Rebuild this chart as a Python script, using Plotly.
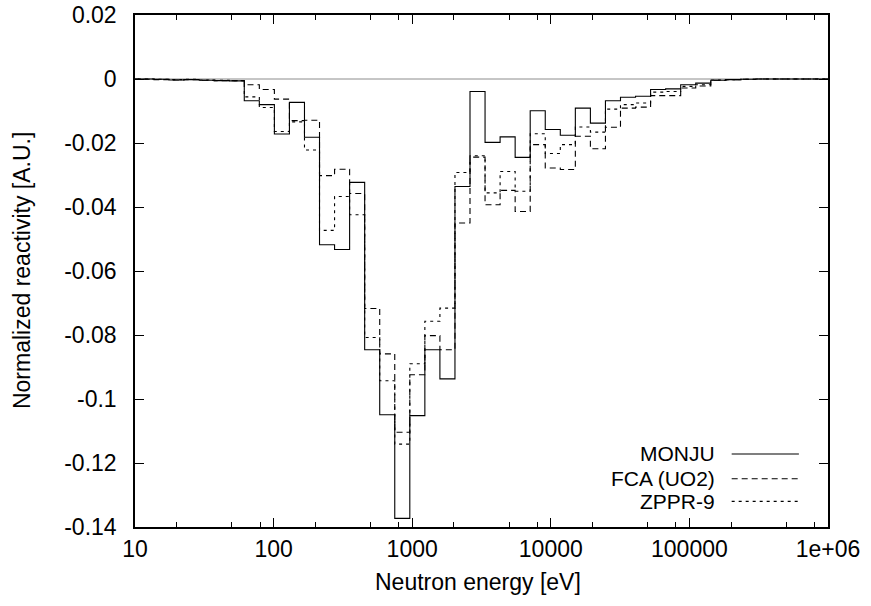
import plotly.graph_objects as go

# Energy group boundaries [eV] (ascending)
energy_edges = [8.3153, 10.677, 13.710, 17.603, 22.603, 29.023, 37.267, 47.851, 61.442, 78.893,
                101.30, 130.07, 167.02, 214.45, 275.36, 353.57, 454.00, 582.95, 748.52, 961.12,
                1234.1, 1584.6, 2034.7, 2612.5, 3354.6, 4307.4, 5530.8, 7101.7, 9118.8, 11709.0,
                15034.0, 19305.0, 24788.0, 31828.0, 40868.0, 52475.0, 67379.0, 86517.0, 111090.0, 142640.0,
                183160.0, 235180.0, 301970.0, 387740.0, 497870.0, 639280.0, 820850.0, 1054000.0]

monju = [0.0, 0.0, -0.0001, -0.0003, -0.0002, -0.0004, -0.0005, -0.0006,
         -0.0068, -0.0080, -0.0172, -0.0073, -0.0182, -0.0518, -0.0533, -0.0323,
         -0.0846, -0.1049, -0.1373, -0.1052, -0.0846, -0.0937, -0.0336, -0.0039,
         -0.0198, -0.0181, -0.0245, -0.0099, -0.0158, -0.0176, -0.0091, -0.0138,
         -0.0068, -0.0057, -0.0054, -0.0033, -0.0031, -0.0018, -0.0013, -0.0004,
         -0.0002, -0.0001, 0.0, 0.0, 0.0, 0.0, 0.0]

fca_uo2 = [0.0, -0.0001, -0.0002, -0.0003, -0.0002, -0.0004, -0.0005, -0.0005,
           -0.0018, -0.0033, -0.0063, -0.0130, -0.0129, -0.0302, -0.0282, -0.0358,
           -0.0717, -0.0859, -0.1104, -0.0924, -0.0802, -0.0846, -0.0450, -0.0244,
           -0.0393, -0.0348, -0.0414, -0.0205, -0.0278, -0.0283, -0.0179, -0.0218,
           -0.0151, -0.0091, -0.0088, -0.0052, -0.0052, -0.0028, -0.0022, -0.0004,
           -0.0002, -0.0001, 0.0, 0.0, 0.0, 0.0, 0.0]

zppr9 = [0.0, 0.0, -0.0001, -0.0002, -0.0001, -0.0003, -0.0004, -0.0005,
         -0.0056, -0.0089, -0.0164, -0.0134, -0.0222, -0.0473, -0.0367, -0.0424,
         -0.0808, -0.0943, -0.1141, -0.0890, -0.0757, -0.0716, -0.0292, -0.0240,
         -0.0356, -0.0289, -0.0351, -0.0171, -0.0233, -0.0205, -0.0150, -0.0166,
         -0.0094, -0.0080, -0.0075, -0.0041, -0.0039, -0.0023, -0.0018, -0.0003,
         -0.0002, -0.0001, 0.0, 0.0, 0.0, 0.0, 0.0]

series_names = ["MONJU", "FCA (UO2)", "ZPPR-9"]
series_dash = ["solid", "6px,4px", "3px,4px"]

x_major = [10, 100, 1000, 10000, 100000, 1000000]
x_major_text = ["10", "100", "1000", "10000", "100000", "1e+06"]
x_minor = [m * d for d in [10, 100, 1000, 10000, 100000] for m in (2, 5, 8)]
y_ticks = [0.02, 0.0, -0.02, -0.04, -0.06, -0.08, -0.1, -0.12, -0.14]
y_text = ["0.02", "0", "-0.02", "-0.04", "-0.06", "-0.08", "-0.1", "-0.12", "-0.14"]

FONT = "Liberation Sans, Arial, Helvetica, sans-serif"
FS = 23
FS_LEG = 21

fig = go.Figure()

# zero axis line
fig.add_trace(go.Scatter(x=[x_major[0], x_major[-1]], y=[0, 0], mode="lines",
                         line=dict(color="#8c8c8c", width=1), showlegend=False, hoverinfo="skip"))

for name, vals, dash in zip(series_names, [monju, fca_uo2, zppr9], series_dash):
    xs = list(energy_edges)
    ys = list(vals) + [vals[-1]]
    fig.add_trace(go.Scatter(x=xs, y=ys, mode="lines", line_shape="hv", name=name,
                             line=dict(color="black", width=1.1, dash=dash), showlegend=False))

# manual legend (text left, sample right)
leg_y = [0.1426, 0.0943, 0.050]
for name, dash, yy in zip(series_names, series_dash, leg_y):
    fig.add_annotation(x=0.838, y=yy, xref="paper", yref="paper", text=name, showarrow=False,
                       xanchor="right", yanchor="middle", borderpad=0,
                       font=dict(family=FONT, size=FS_LEG, color="black"))
    fig.add_shape(type="line", xref="paper", yref="paper", x0=0.861, x1=0.958, y0=yy, y1=yy,
                  line=dict(color="black", width=1.1, dash=dash))

fig.add_annotation(x=0.495, y=-0.108, xref="paper", yref="paper", text="Neutron energy [eV]",
                   showarrow=False, xanchor="center", yanchor="middle",
                   font=dict(family=FONT, size=FS, color="black"))
fig.add_annotation(x=-0.163, y=0.5, xref="paper", yref="paper", text="Normalized reactivity [A.U.]",
                   showarrow=False, textangle=-90, xanchor="center", yanchor="middle",
                   font=dict(family=FONT, size=FS, color="black"))

fig.update_xaxes(type="log", range=[1, 6], tickmode="array", tickvals=x_major, ticktext=x_major_text,
                 ticks="inside", ticklen=9, tickwidth=1.2, tickcolor="black",
                 minor=dict(tickmode="array", tickvals=x_minor, ticks="inside", ticklen=5,
                            tickwidth=1.2, tickcolor="black", showgrid=False),
                 showline=True, linecolor="black", linewidth=1.5, mirror="ticks",
                 showgrid=False, zeroline=False, ticklabelstandoff=1, automargin=False,
                 tickfont=dict(family=FONT, size=FS, color="black"))
fig.update_yaxes(range=[-0.14, 0.02], tickmode="array", tickvals=y_ticks, ticktext=y_text,
                 ticks="inside", ticklen=9, tickwidth=1.2, tickcolor="black",
                 showline=True, linecolor="black", linewidth=1.5, mirror="ticks",
                 showgrid=False, zeroline=False, ticklabelstandoff=12, automargin=False,
                 tickfont=dict(family=FONT, size=FS, color="black"))

fig.update_layout(width=871, height=606, margin=dict(l=135, r=43, t=15, b=79),
                  paper_bgcolor="white", plot_bgcolor="white", showlegend=False,
                  template="none")

fig.write_html("out.html", config={"displayModeBar": False},
               post_script="document.body.style.margin='0';document.body.style.overflow='hidden';")
